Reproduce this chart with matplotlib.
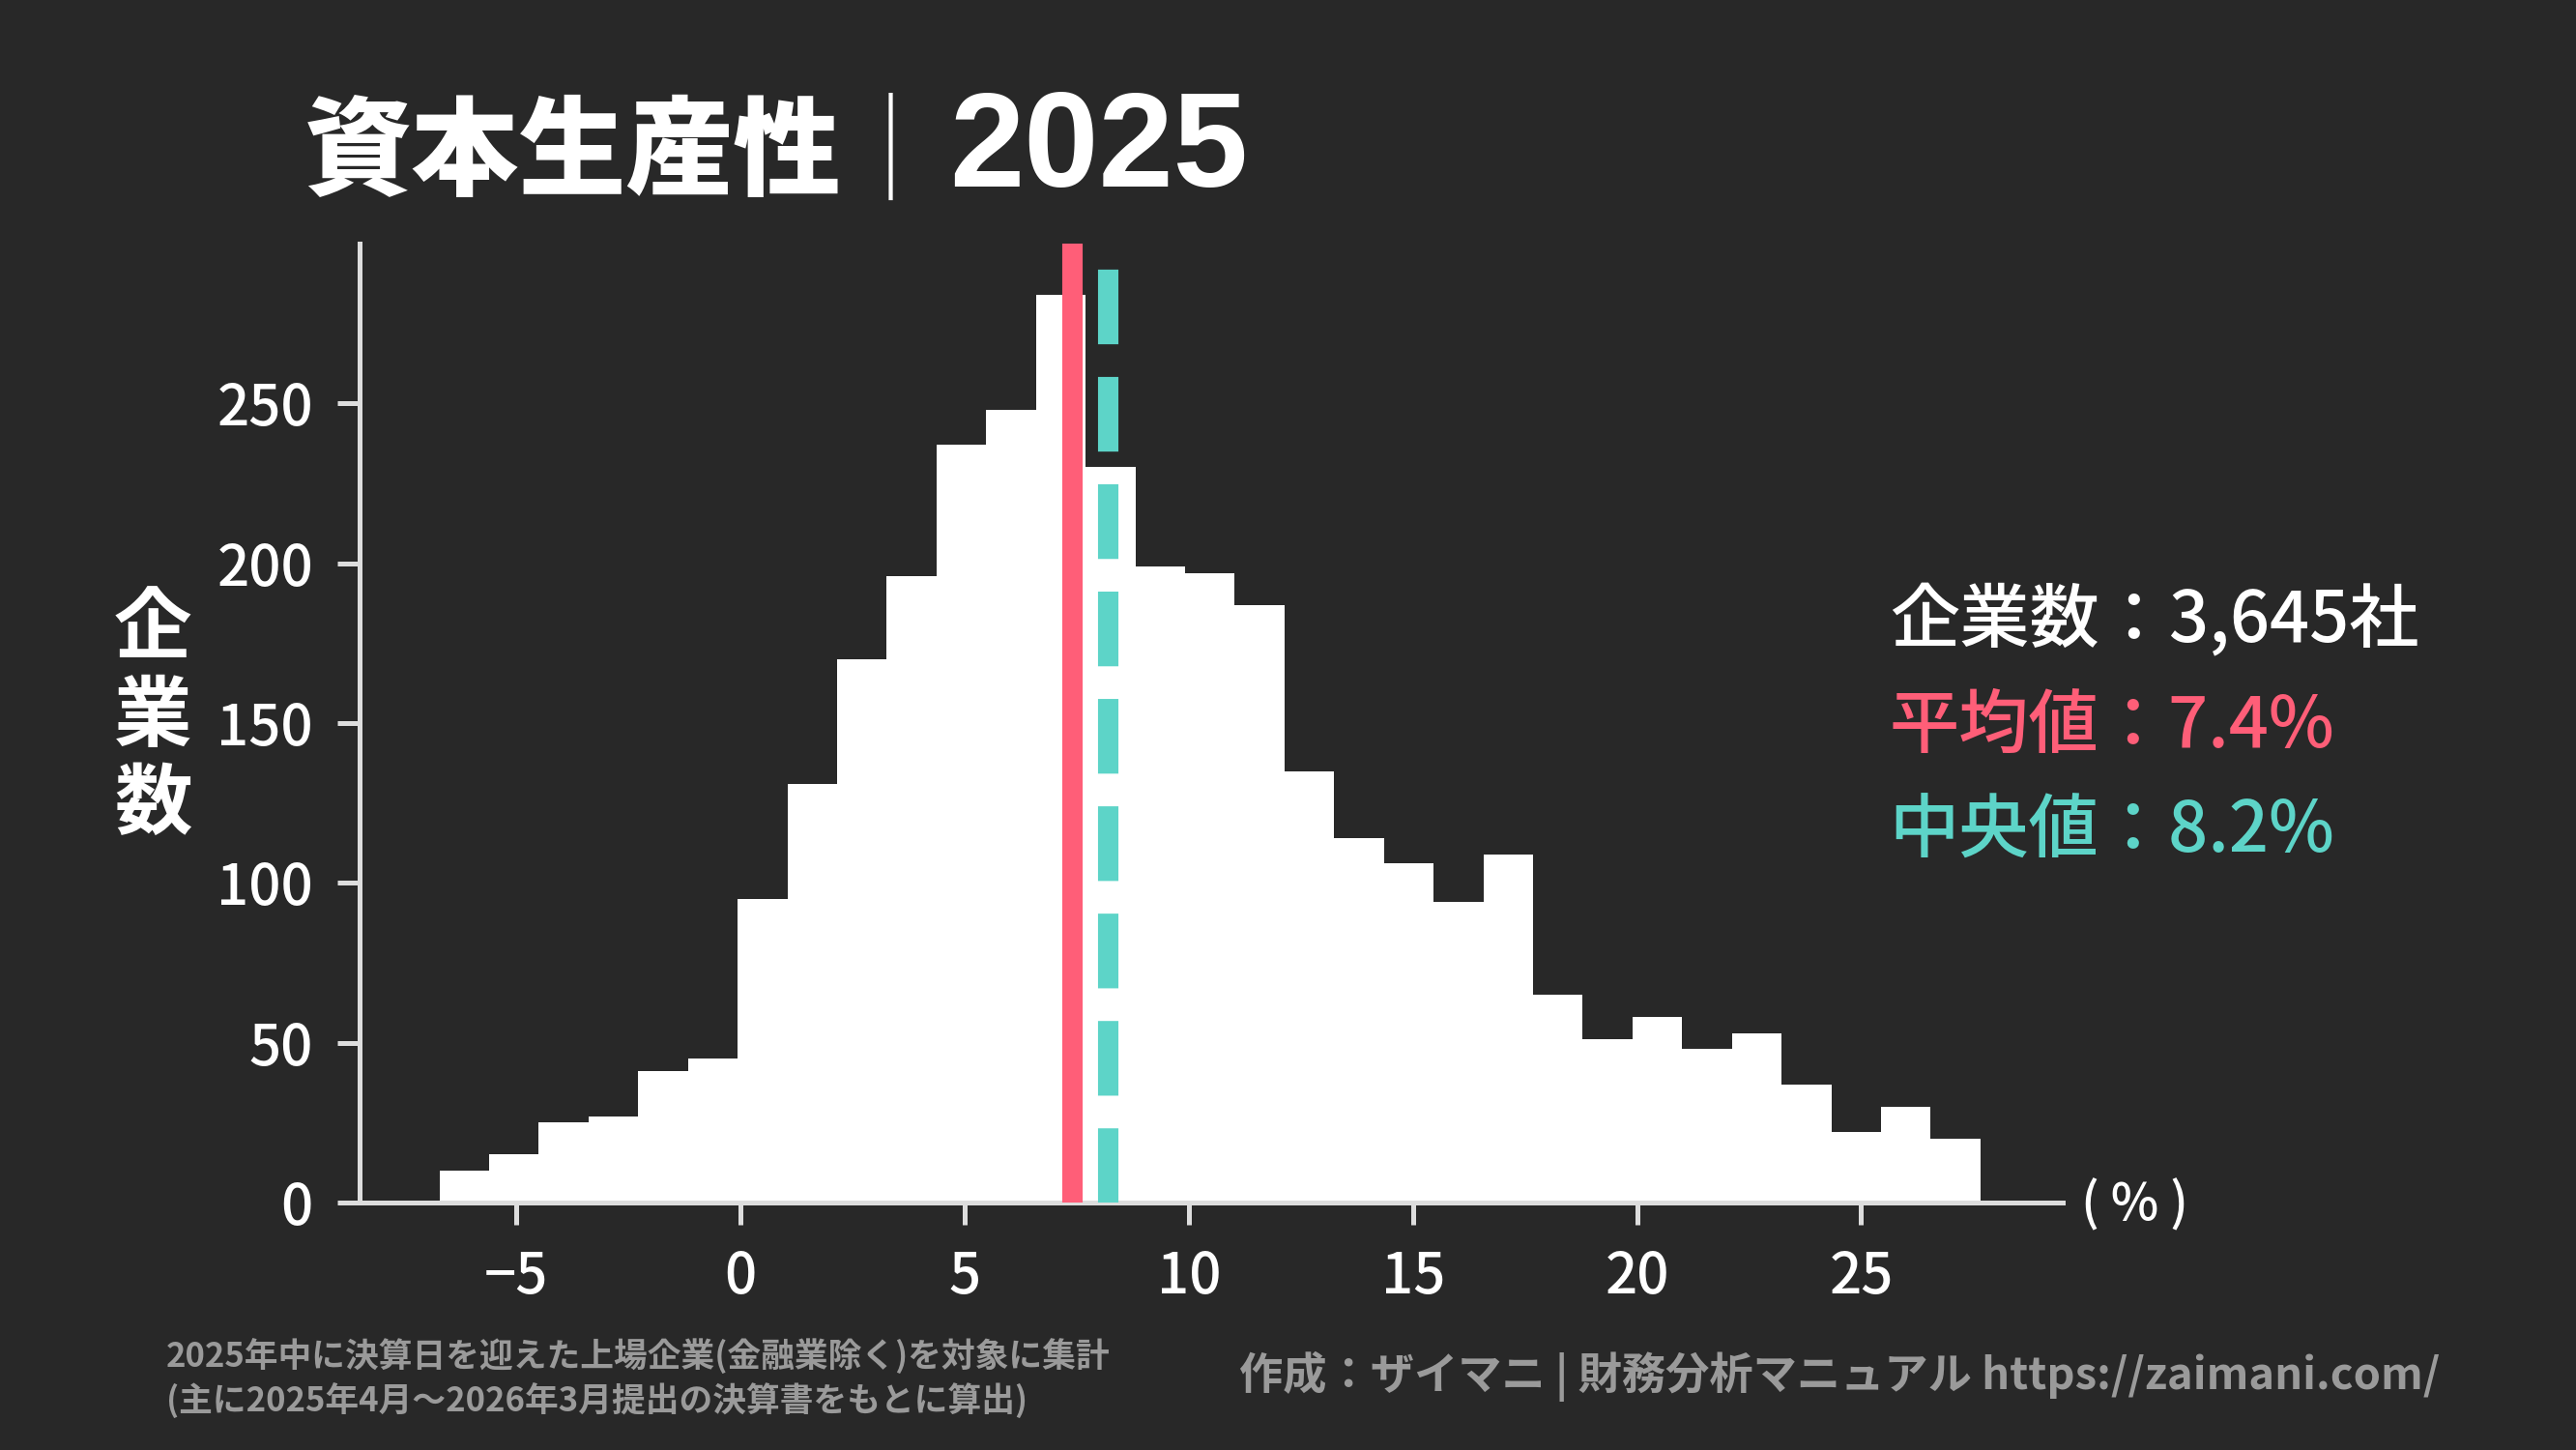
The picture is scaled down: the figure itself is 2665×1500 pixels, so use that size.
import numpy as np
import matplotlib
matplotlib.use("Agg")
import matplotlib.pyplot as plt

plt.rcParams['font.family'] = ['Noto Sans CJK JP', 'DejaVu Sans']

# histogram of capital productivity (%), 31 bins
bin_edges = np.linspace(-6.72, 27.66, 32)
counts = [10, 15, 25, 27, 41, 45, 95, 131, 170, 196, 237, 248, 284, 230, 199,
          197, 187, 135, 114, 106, 94, 109, 65, 51, 58, 48, 53, 37, 22, 30, 20]
mean_val = 7.4
median_val = 8.2
n_companies = "3,645"

x_ticks = [-5, 0, 5, 10, 15, 20, 25]
y_ticks = [0, 50, 100, 150, 200, 250]

BG = '#282828'
PINK = '#FF5E78'
TEAL = '#5DD4C8'
AXIS = '#DDDDDD'
GRAY = '#9A9A9A'

fig = plt.figure(figsize=(13.325, 7.5), dpi=200, facecolor=BG)
ax = fig.add_axes([0.1396, 0.1707, 0.8008 - 0.1396, 0.832 - 0.1707])
ax.set_facecolor(BG)

ax.stairs(counts, bin_edges, fill=True, color='white', zorder=2)
ax.axvline(mean_val, color=PINK, lw=7.6, zorder=3)
ax.axvline(median_val, color=TEAL, lw=7.6, linestyle=(0, (3.66, 1.6)), zorder=3)

ax.set_xlim(-8.5, 29.5)
ax.set_ylim(0, 300)
ax.set_xticks(x_ticks)
ax.set_yticks(y_ticks)

for s in ['top', 'right']:
    ax.spines[s].set_visible(False)
for s in ['left', 'bottom']:
    ax.spines[s].set_color(AXIS)
    ax.spines[s].set_linewidth(1.8)
ax.tick_params(colors=AXIS, length=8.3, width=1.8, pad=9)
for lab in ax.get_xticklabels() + ax.get_yticklabels():
    lab.set_color('white')
    lab.set_fontsize(21)
    lab.set_fontweight('medium')

# vertical y-label, one character per line
fig.text(0.0593, 0.505, "企\n業\n数", color='white', fontsize=29, fontweight='bold',
         ha='center', va='center', linespacing=1.15)

fig.text(0.808, 0.1687, "( % )", color='white', fontsize=19, fontweight='medium',
         ha='left', va='center')

# title: kanji, separator and year set separately
fig.text(0.118, 0.871, "資本生産性", color='white', fontsize=40, fontweight='heavy',
         ha='left', va='baseline')
fig.text(0.3457, 0.871, "｜", color='white', fontsize=40, fontweight='light',
         ha='center', va='baseline')
fig.text(0.3686, 0.871, "2025", color='white', fontsize=50, fontweight='bold',
         family=['Liberation Sans', 'DejaVu Sans'], ha='left', va='baseline')

# summary block
fig.text(0.7335, 0.572, f"企業数：{n_companies}社", color='white', fontsize=26,
         fontweight='medium', ha='left', va='center')
fig.text(0.7335, 0.499, f"平均値：{mean_val}%", color=PINK, fontsize=26,
         fontweight='medium', ha='left', va='center')
fig.text(0.7335, 0.426, f"中央値：{median_val}%", color=TEAL, fontsize=26,
         fontweight='medium', ha='left', va='center')

# footer
fig.text(0.0645, 0.049,
         "2025年中に決算日を迎えた上場企業(金融業除く)を対象に集計\n(主に2025年4月～2026年3月提出の決算書をもとに算出)",
         color=GRAY, fontsize=12.5, fontweight='bold', ha='left', va='center', linespacing=1.3)
fig.text(0.947, 0.051, "作成：ザイマニ | 財務分析マニュアル https://zaimani.com/",
         color=GRAY, fontsize=16.3, fontweight='bold', ha='right', va='center')

fig.savefig("out.png", dpi=200, facecolor=BG)
